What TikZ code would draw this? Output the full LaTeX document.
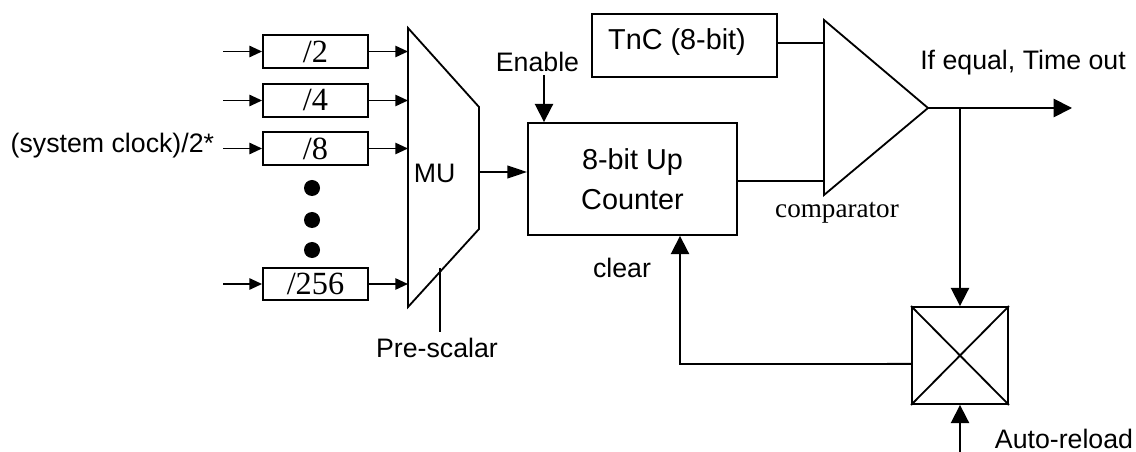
\documentclass[tikz,border=0pt]{standalone}
\usepackage{fontspec}
\setmainfont{Liberation Sans}
\newfontfamily\tnr{Liberation Serif}
\usepackage{tikz}
\usetikzlibrary{arrows.meta,positioning}

\begin{document}
\begin{tikzpicture}[
    x=0.025cm, y=-0.025cm,
    line width=1.3pt,
    lbl/.style={inner sep=0pt, font=\fontsize{19}{22}\selectfont},
    divbox/.style={draw, minimum width=2.625cm, minimum height=0.82cm, inner sep=0pt, font=\tnr\fontsize{23}{24}\selectfont},
    box/.style={draw, inner sep=0pt, align=center, font=\fontsize{20.5}{28.5}\selectfont},
    arrow/.style={-{Triangle[length=13pt,width=13pt]}},
    sarrow/.style={-{Triangle[length=9pt,width=8pt]}},
    marrow/.style={-{Triangle[length=14pt,width=9pt]}}
]
\useasboundingbox (0,0) rectangle (1136,452);

% Prescaler inputs
\node[lbl, anchor=east] (sysclk) at (215,146) {(system clock)/2*};
\foreach \n/\y in {2/51.5,4/100.5,8/148.5,256/284}{
    \node[divbox] (div\n) at (315.5,\y) {\raisebox{-5pt}{/\n}};
    \coordinate (in\n) at (223,\y);
    \coordinate (mux\n) at (408,\y);
    \draw[sarrow] (in\n) -- (div\n);
    \draw[sarrow] (div\n) -- (mux\n);
}
\foreach \y in {188,220,250}
    \fill (312,\y) circle (0.2cm);

% MUX
\draw (408,28) -- (479,107) -- (479,229) -- (408,307) -- cycle;
\node[lbl, anchor=west] (mux) at (413,173) {MU};
\coordinate (muxout) at (479,172);
\coordinate (pretick) at (440,268);
\coordinate (pretickend) at (440,332);
\node[lbl] (prescalar) at (437,348) {Pre-scalar};
\draw (pretick) -- (pretickend);

% Counter and compare register
\node[box, minimum width=5.225cm, minimum height=2.8cm] (counter) at (632.5,179) {8-bit Up\\Counter};
\node[draw, minimum width=4.625cm, minimum height=1.575cm] (tnc) at (684.5,45.5) {};
\node[inner sep=0pt, font=\fontsize{20.5}{24}\selectfont] (tnctext) at (677,42) {TnC (8-bit)};
\draw[marrow] (muxout) -- (muxout -| counter.west);
\node[lbl] (enable) at (537.5,62) {Enable};
\coordinate (en) at (544,75);
\draw[arrow] (en) -- (en |- counter.north);

% Comparator
\draw (824,20) -- (928,108) -- (824,195) -- cycle;
\coordinate (cmpa) at (824,43);
\coordinate (cmpb) at (824,181);
\coordinate (cmpout) at (928,108);
\node[lbl, font=\tnr\fontsize{19.3}{22}\selectfont] (cmplbl) at (837,213) {comparator};
\draw (tnc.east |- cmpa) -- (cmpa);
\draw (counter.east |- cmpb) -- (cmpb);

% Time out and reload
\node[lbl] (timeout) at (1023,63) {If equal, Time out};
\coordinate (outend) at (1072,108);
\coordinate (branch) at (960,108);
\draw[arrow] (cmpout) -- (outend);
\node[draw, minimum width=2.4cm, minimum height=2.425cm, inner sep=0pt] (reload) at (960,355.5) {};
\draw (reload.north west) -- (reload.south east);
\draw (reload.north east) -- (reload.south west);
\draw[arrow] (branch) -- (reload.north);
\coordinate (fb) at (680,364);
\draw[arrow] ([yshift=-0.21cm]reload.west) -- (fb) -- (fb |- counter.south);
\node[lbl] (clear) at (622,268) {clear};
\coordinate (ar) at (960,452);
\draw[arrow] (ar) -- (reload.south);
\node[lbl] (autoreload) at (1064,439) {Auto-reload};

\end{tikzpicture}
\end{document}
